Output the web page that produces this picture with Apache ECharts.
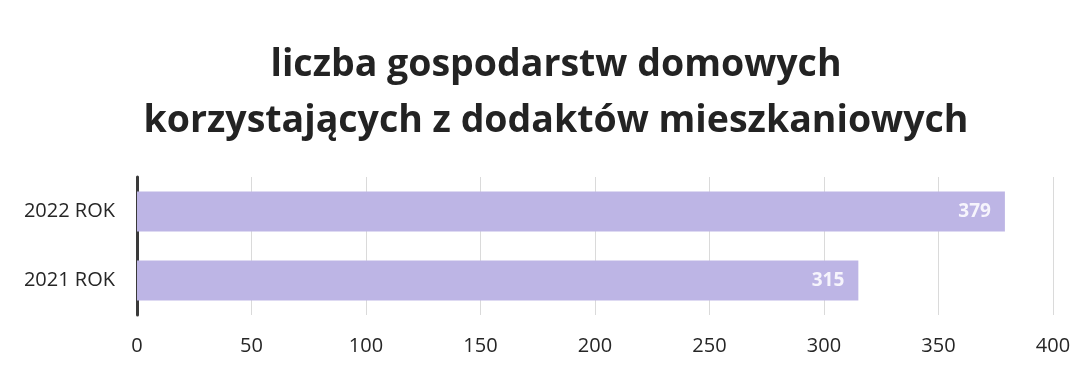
<!DOCTYPE html>
<html>
<head>
<meta charset="utf-8">
<script src="https://cdn.jsdelivr.net/npm/echarts@6/dist/echarts.min.js"></script>
<style>
  html, body { margin: 0; padding: 0; background: #ffffff; }
  #chart { width: 1086px; height: 370px; }
</style>
</head>
<body>
<div id="chart"></div>
<script>
// Households receiving housing allowances, by year
const categories = ['2021 ROK', '2022 ROK'];
const households = [315, 379];
const xTicks = [0, 50, 100, 150, 200, 250, 300, 350, 400];

const chart = echarts.init(document.getElementById('chart'));
chart.setOption({
  backgroundColor: '#ffffff',
  animation: false,
  title: {
    text: 'liczba gospodarstw domowych\nkorzystających z dodaktów mieszkaniowych',
    left: 551,
    textAlign: 'center',
    top: 32,
    textStyle: {
      fontFamily: 'Open Sans',
      fontWeight: 'bold',
      fontSize: 37.5,
      lineHeight: 56,
      color: '#232323'
    }
  },
  grid: { left: 137, right: 33, top: 177, bottom: 55 },
  xAxis: {
    type: 'value',
    min: xTicks[0],
    max: xTicks[xTicks.length - 1],
    interval: xTicks[1] - xTicks[0],
    axisLine: { show: false },
    axisTick: { show: false },
    axisLabel: {
      margin: 21,
      fontFamily: 'Open Sans',
      fontSize: 20,
      color: '#262626'
    },
    splitLine: { show: true, lineStyle: { color: '#dadada', width: 1 } }
  },
  yAxis: {
    type: 'category',
    data: categories,
    axisLine: { show: true, lineStyle: { color: '#3a3a3a', width: 3 } },
    axisTick: { show: false },
    axisLabel: {
      margin: 22,
      fontFamily: 'Open Sans',
      fontSize: 20,
      color: '#262626'
    }
  },
  series: [{
    type: 'bar',
    data: households,
    barCategoryGap: '42%',
    itemStyle: { color: '#bdb5e5' },
    label: {
      show: true,
      position: 'insideRight',
      distance: 14,
      fontFamily: 'Open Sans',
      fontWeight: 'bold',
      fontSize: 19,
      color: '#f6f4fc'
    }
  }]
});
</script>
</body>
</html>
